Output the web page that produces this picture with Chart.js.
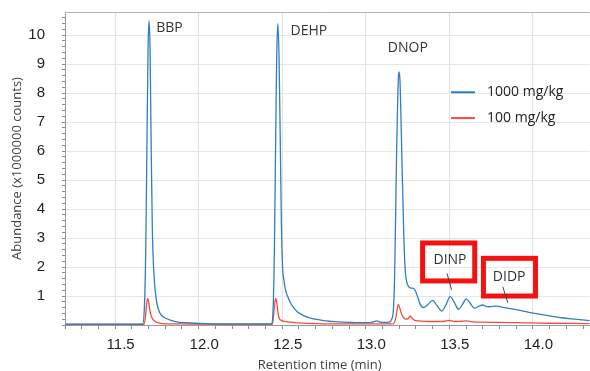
<!DOCTYPE html>
<html lang="en">
<head>
    <meta charset="UTF-8">
    <title>Phthalate chromatogram</title>
    <script src="https://cdn.jsdelivr.net/npm/chart.js@4.4.1/dist/chart.umd.min.js"></script>
    <style>
        html, body { margin: 0; padding: 0; background: #fff; }
        canvas { display: block; }
    </style>
</head>
<body>
    <canvas id="chart_area" width="590" height="371"></canvas>
    <script>
        // retention time (min) / abundance (x1000000 counts)
        const time_1000 = [
            11.20, 11.40, 11.60, 11.665, 11.675, 11.683, 11.690, 11.697, 11.703, 11.709,
            11.716, 11.723, 11.730, 11.738, 11.750, 11.765, 11.780, 11.800, 11.830, 11.870,
            11.920, 11.980, 12.050, 12.200, 12.350, 12.435, 12.445, 12.453, 12.460, 12.467,
            12.474, 12.481, 12.488, 12.495, 12.502, 12.510, 12.520, 12.535, 12.550, 12.570,
            12.590, 12.620, 12.650, 12.690, 12.730, 12.780, 12.830, 12.900, 12.950, 13.000,
            13.040, 13.065, 13.090, 13.120, 13.140, 13.155, 13.165, 13.172, 13.178, 13.184,
            13.190, 13.196, 13.200, 13.205, 13.210, 13.216, 13.222, 13.228, 13.234, 13.240,
            13.250, 13.265, 13.280, 13.295, 13.310, 13.325, 13.345, 13.370, 13.400, 13.425,
            13.455, 13.480, 13.505, 13.530, 13.555, 13.580, 13.600, 13.625, 13.650, 13.675,
            13.700, 13.720, 13.740, 13.780, 13.830, 13.890, 13.950, 14.010, 14.090, 14.170,
            14.250, 14.340
        ];
        const abund_1000 = [
            0.03, 0.03, 0.03, 0.04, 0.6, 2.5, 6.0, 9.5, 10.5, 9.5,
            6.0, 3.2, 2.0, 1.3, 0.75, 0.45, 0.32, 0.24, 0.17, 0.11,
            0.08, 0.06, 0.05, 0.04, 0.04, 0.04, 0.5, 2.5, 6.0, 9.3,
            10.4, 9.2, 6.5, 3.5, 2.0, 1.55, 1.2, 0.95, 0.76, 0.58,
            0.46, 0.35, 0.27, 0.21, 0.17, 0.13, 0.11, 0.09, 0.08, 0.08,
            0.10, 0.14, 0.10, 0.09, 0.10, 0.2, 0.5, 1.5, 3.5, 5.8,
            7.5, 8.6, 8.73, 8.4, 7.3, 5.8, 4.4, 3.0, 2.1, 1.65,
            1.4, 1.28, 1.27, 1.2, 0.98, 0.72, 0.6, 0.7, 0.85, 0.68,
            0.48, 0.7, 0.98, 0.78, 0.54, 0.72, 0.9, 0.75, 0.58, 0.64,
            0.69, 0.64, 0.63, 0.65, 0.60, 0.54, 0.47, 0.40, 0.32, 0.25,
            0.20, 0.15
        ];
        const time_100 = [
            11.20, 11.60, 11.672, 11.682, 11.688, 11.694, 11.700, 11.707, 11.715, 11.725,
            11.740, 11.760, 11.800, 11.900, 12.000, 12.200, 12.440, 12.448, 12.455, 12.462,
            12.468, 12.474, 12.480, 12.495, 12.520, 12.550, 12.600, 12.700, 12.900, 13.100,
            13.165, 13.178, 13.188, 13.195, 13.203, 13.213, 13.225, 13.240, 13.255, 13.265,
            13.275, 13.290, 13.320, 13.370, 13.420, 13.470, 13.500, 13.530, 13.570, 13.600,
            13.640, 13.700, 13.800, 13.900, 14.000, 14.100, 14.340
        ];
        const abund_100 = [
            0.02, 0.02, 0.02, 0.3, 0.7, 0.92, 0.82, 0.55, 0.33, 0.20,
            0.12, 0.07, 0.04, 0.04, 0.03, 0.02, 0.02, 0.3, 0.75, 0.92,
            0.75, 0.46, 0.26, 0.16, 0.12, 0.10, 0.07, 0.05, 0.04, 0.04,
            0.04, 0.2, 0.55, 0.71, 0.6, 0.4, 0.26, 0.2, 0.22, 0.31,
            0.25, 0.17, 0.14, 0.12, 0.12, 0.13, 0.16, 0.12, 0.13, 0.14,
            0.11, 0.10, 0.09, 0.08, 0.07, 0.06, 0.05
        ];

        const series_names = ['1000 mg/kg', '100 mg/kg'];
        const series_colors = ['#2f7fc2', '#ef4f3c'];

        // labelled tick values (others are minor ticks)
        const x_label_values = [11.5, 12.0, 12.5, 13.0, 13.5, 14.0];
        const y_label_values = [1, 2, 3, 4, 5, 6, 7, 8, 9, 10];

        // peak names, placed in data units
        const peak_labels = [
            { text: 'BBP', x: 11.746, y: 10.26 },
            { text: 'DEHP', x: 12.55, y: 10.16 },
            { text: 'DNOP', x: 13.132, y: 9.57 }
        ];
        const boxed_labels = [
            { text: 'DINP', x: 13.504, y: 2.24, box: [13.34, 2.83, 13.652, 1.52], leader: [13.486, 1.78, 13.514, 1.21] },
            { text: 'DIDP', x: 13.858, y: 1.67, box: [13.704, 2.30, 14.016, 1.00], leader: [13.82, 1.32, 13.85, 0.77] }
        ];

        function to_points(xs, ys) {
            return xs.map((x, i) => ({ x: x, y: ys[i] }));
        }

        function is_in(list, v) {
            return list.some(l => Math.abs(l - v) < 1e-6);
        }

        const text_font = '"Open Sans", "Noto Sans", sans-serif';
        const tick_font = '"Liberation Sans", Arial, sans-serif';

        // labels, boxes, legend and axis titles
        const extras_plugin = {
            id: 'extras',
            afterDatasetsDraw(chart) {
                const ctx = chart.ctx;
                const area = chart.chartArea;
                const xs = chart.scales.x;
                const ys = chart.scales.y;
                ctx.save();

                // top frame line
                ctx.strokeStyle = '#b4b4b4';
                ctx.lineWidth = 1;
                ctx.beginPath();
                ctx.moveTo(area.left, area.top + 0.5);
                ctx.lineTo(area.right, area.top + 0.5);
                ctx.stroke();

                ctx.font = '14px ' + text_font;
                ctx.fillStyle = '#333';
                ctx.textBaseline = 'middle';
                ctx.textAlign = 'left';
                peak_labels.forEach(p => {
                    ctx.fillText(p.text, xs.getPixelForValue(p.x), ys.getPixelForValue(p.y));
                });

                boxed_labels.forEach(p => {
                    const b = p.box;
                    const x0 = xs.getPixelForValue(b[0]), y0 = ys.getPixelForValue(b[1]);
                    const x1 = xs.getPixelForValue(b[2]), y1 = ys.getPixelForValue(b[3]);
                    ctx.strokeStyle = '#f21212';
                    ctx.lineWidth = 5;
                    ctx.strokeRect(x0, y0, x1 - x0, y1 - y0);
                    ctx.fillStyle = '#333';
                    ctx.textAlign = 'center';
                    ctx.fillText(p.text, xs.getPixelForValue(p.x), ys.getPixelForValue(p.y));
                    const l = p.leader;
                    ctx.strokeStyle = '#444';
                    ctx.lineWidth = 1;
                    ctx.beginPath();
                    ctx.moveTo(xs.getPixelForValue(l[0]), ys.getPixelForValue(l[1]));
                    ctx.lineTo(xs.getPixelForValue(l[2]), ys.getPixelForValue(l[3]));
                    ctx.stroke();
                });

                // legend inside the plot
                ctx.textAlign = 'left';
                series_names.forEach((name, i) => {
                    const ly = ys.getPixelForValue(8.03 - i * 0.89);
                    ctx.strokeStyle = series_colors[i];
                    ctx.lineWidth = 2;
                    ctx.beginPath();
                    ctx.moveTo(xs.getPixelForValue(13.51), ly);
                    ctx.lineTo(xs.getPixelForValue(13.654), ly);
                    ctx.stroke();
                    ctx.fillStyle = '#222';
                    ctx.fillText(name, xs.getPixelForValue(13.726), ly);
                });

                // axis titles
                ctx.font = '13px ' + text_font;
                ctx.fillStyle = '#404040';
                ctx.textAlign = 'center';
                ctx.fillText('Retention time (min)', xs.getPixelForValue(12.724), area.bottom + 40);
                ctx.translate(17, (area.top + area.bottom) / 2);
                ctx.rotate(-Math.PI / 2);
                ctx.fillText('Abundance (x1000000 counts)', 0, 0);

                ctx.restore();
            }
        };

        const config = {
            type: 'line',
            data: {
                datasets: [{
                    label: series_names[0],
                    data: to_points(time_1000, abund_1000),
                    borderColor: series_colors[0],
                    borderWidth: 1.3,
                    pointRadius: 0,
                    cubicInterpolationMode: 'monotone'
                }, {
                    label: series_names[1],
                    data: to_points(time_100, abund_100),
                    borderColor: series_colors[1],
                    borderWidth: 1.3,
                    pointRadius: 0,
                    cubicInterpolationMode: 'monotone'
                }]
            },
            options: {
                responsive: false,
                animation: false,
                layout: { padding: { top: 12, right: 0, left: 0, bottom: 0 } },
                plugins: {
                    legend: { display: false },
                    tooltip: { enabled: false }
                },
                scales: {
                    x: {
                        type: 'linear',
                        min: 11.2,
                        max: 14.34,
                        bounds: 'data',
                        afterFit: function (scale) { scale.height = 46; },
                        border: { color: '#9a9a9a' },
                        grid: {
                            color: c => is_in(x_label_values, c.tick.value) ? '#e2e2e2' : 'rgba(0,0,0,0)',
                            tickColor: '#8a8a8a',
                            tickLength: 4
                        },
                        ticks: {
                            stepSize: 0.1,
                            includeBounds: false,
                            autoSkip: false,
                            maxRotation: 0,
                            padding: 7,
                            labelOffset: 5.5,
                            color: '#1e1e1e',
                            font: { family: tick_font, size: 15 },
                            callback: v => is_in(x_label_values, v) ? v.toFixed(1) : ''
                        }
                    },
                    y: {
                        min: 0,
                        max: 10.8,
                        bounds: 'data',
                        afterFit: function (scale) {
                            scale.width = 65;
                            // don't let the label padding push the plot down
                            scale.paddingTop = 0;
                            scale.paddingBottom = 0;
                        },
                        border: { color: '#9a9a9a' },
                        grid: {
                            color: c => is_in(y_label_values, c.tick.value) ? '#e6e6e6' : 'rgba(0,0,0,0)',
                            tickColor: '#8a8a8a',
                            tickLength: 3
                        },
                        ticks: {
                            stepSize: 0.2,
                            includeBounds: false,
                            autoSkip: false,
                            padding: 17,
                            color: '#1e1e1e',
                            font: { family: tick_font, size: 15 },
                            callback: v => v > 10.7 ? null : (is_in(y_label_values, v) ? String(Math.round(v)) : '')
                        }
                    }
                }
            },
            plugins: [extras_plugin]
        };

        var ctx = document.getElementById('chart_area').getContext('2d');
        window.chromChart = new Chart(ctx, config);
    </script>
</body>
</html>
